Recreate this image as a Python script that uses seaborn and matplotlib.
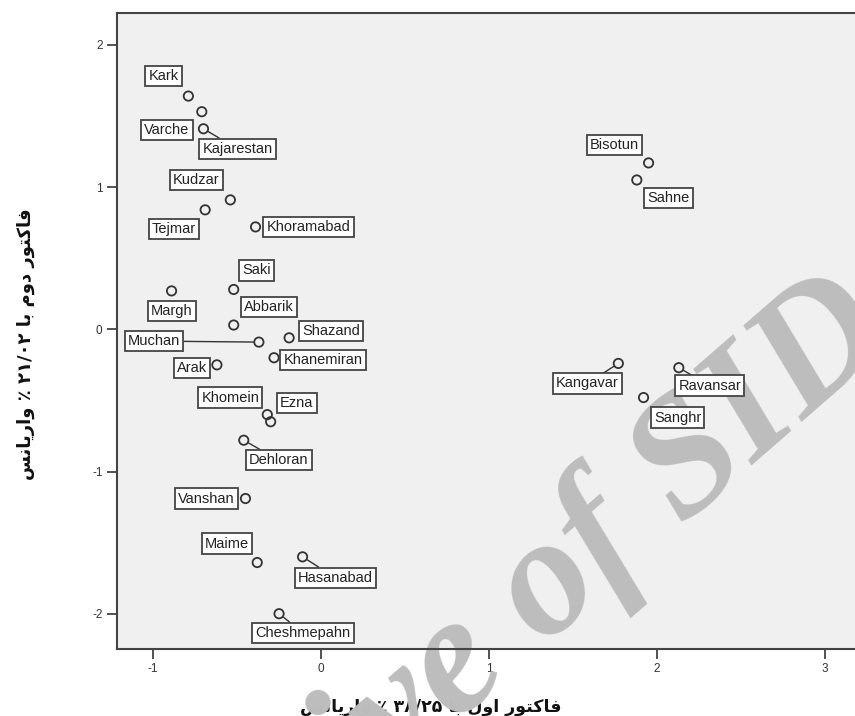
import matplotlib
matplotlib.use('Agg')
import matplotlib.pyplot as plt
import seaborn as sns
import pandas as pd

# factor scores
places = ['Kark', 'Varche', 'Kajarestan', 'Kudzar', 'Tejmar', 'Khoramabad',
          'Saki', 'Margh', 'Abbarik', 'Muchan', 'Shazand', 'Khanemiran',
          'Arak', 'Khomein', 'Ezna', 'Dehloran', 'Vanshan', 'Maime',
          'Hasanabad', 'Cheshmepahn', 'Bisotun', 'Sahne', 'Kangavar',
          'Ravansar', 'Sanghr']
factor1 = [-0.79, -0.71, -0.70, -0.54, -0.69, -0.39,
           -0.52, -0.89, -0.52, -0.37, -0.19, -0.28,
           -0.62, -0.32, -0.30, -0.46, -0.45, -0.38,
           -0.11, -0.25, 1.95, 1.88, 1.77,
           2.13, 1.92]
factor2 = [1.64, 1.53, 1.41, 0.91, 0.84, 0.72,
           0.28, 0.27, 0.03, -0.09, -0.06, -0.20,
           -0.25, -0.60, -0.65, -0.78, -1.19, -1.64,
           -1.60, -2.00, 1.17, 1.05, -0.24,
           -0.27, -0.48]
x_ticks = [-1, 0, 1, 2, 3]
y_ticks = [-2, -1, 0, 1, 2]

# label box offsets from the point (pixels, right / up) and leader lines
label_offset = {
    'Kark': (-25, 20), 'Varche': (-35, -18), 'Kajarestan': (34, -20),
    'Kudzar': (-34, 20), 'Tejmar': (-31, -19), 'Khoramabad': (53, 0),
    'Saki': (23, 19), 'Margh': (0, -20), 'Abbarik': (35, 18),
    'Muchan': (-105, 1), 'Shazand': (42, 7), 'Khanemiran': (49, -2),
    'Arak': (-25, -3), 'Khomein': (-37, 17), 'Ezna': (26, 19),
    'Dehloran': (35, -20), 'Vanshan': (-39, 0), 'Maime': (-30, 19),
    'Hasanabad': (33, -21), 'Cheshmepahn': (24, -19), 'Bisotun': (-34, 18),
    'Sahne': (32, -18), 'Kangavar': (-31, -20), 'Ravansar': (31, -18),
    'Sanghr': (34, -20),
}
leader = ['Kajarestan', 'Muchan', 'Dehloran', 'Hasanabad', 'Cheshmepahn',
          'Kangavar', 'Ravansar']

# Persian axis titles, written in visual order with Arabic presentation forms
faktor = '\uFEAD\uFEEE\uFE98\uFB90\uFE8E\uFED3'
avval = '\uFEDD\uFEED\uFE8D'
dovvom = '\uFEE1\uFEED\uFEA9'
ba = '\uFE8E\uFE91'
variance = '\uFEB2\uFEE7\uFE8E\uFBFE\uFEAD\uFE8D\uFEED'
x_title = f'{variance} \u066A \u06F3\u06F8/\u06F2\u06F5 {ba} {avval} {faktor}'
y_title = f'{variance} \u066A \u06F2\u06F1/\u06F0\u06F2 {ba} {dovvom} {faktor}'

df = pd.DataFrame({'place': places, 'f1': factor1, 'f2': factor2})

sns.set_theme(style='ticks', rc={'axes.facecolor': '#f0f0f0',
                                 'axes.edgecolor': '#444444'})
plt.rcParams['font.family'] = ['Liberation Sans', 'DejaVu Sans']
plt.rcParams['axes.unicode_minus'] = False

fig = plt.figure(figsize=(8.55, 7.16), dpi=100)
ax = fig.add_axes([0.137, 0.094, 0.863, 0.888])

sns.scatterplot(data=df, x='f1', y='f2', ax=ax, marker='o', s=45,
                facecolors='none', edgecolor='#333333', linewidth=1.3,
                zorder=4)

for name, x, y in zip(places, factor1, factor2):
    dx, dy = label_offset[name]
    arrow = None
    if name in leader:
        arrow = dict(arrowstyle='-', color='#333333', lw=1.0,
                     shrinkA=0, shrinkB=4)
    ax.annotate(name, xy=(x, y), xytext=(dx * 0.72, dy * 0.72),
                textcoords='offset points', ha='center', va='center',
                fontsize=10.5, color='#222222', zorder=3,
                bbox=dict(boxstyle='square,pad=0.22', fc='white',
                          ec='#444444', lw=1.3),
                arrowprops=arrow)

# watermark of the source page
ax.text(0.553, 0.078, 'Archive of SID', transform=fig.transFigure,
        fontsize=122, family='Liberation Serif', weight='bold',
        style='italic', color='#bdbdbd', rotation=41,
        rotation_mode='anchor', ha='center', va='center',
        clip_on=False, zorder=1)

ax.set_xlim(-1.214, 3.179)
ax.set_ylim(-2.246, 2.225)
ax.set_xticks(x_ticks)
ax.set_yticks(y_ticks)
ax.tick_params(direction='out', length=7, width=1.3, color='#444444',
               labelsize=8.5, labelcolor='#333333')
for side in ['left', 'top', 'bottom']:
    ax.spines[side].set_linewidth(1.5)
ax.spines['right'].set_visible(False)

ax.set_xlabel(x_title, fontsize=12.5, weight='bold',
              family=['DejaVu Sans'], color='#111111')
ax.set_ylabel(y_title, fontsize=13, weight='bold',
              family=['DejaVu Sans'], color='#111111')
ax.xaxis.set_label_coords(0.425, -0.078)
ax.yaxis.set_label_coords(-0.111, 0.479)

fig.savefig('out.png', dpi=100)
